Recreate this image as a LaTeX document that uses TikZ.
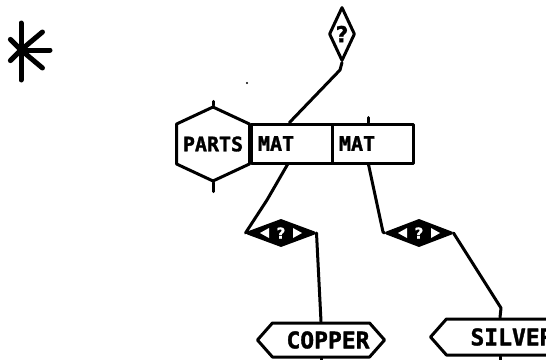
\documentclass[tikz,border=0pt]{standalone}
\usepackage{fontspec}
\newfontfamily\plotter{DejaVu Sans Mono}[BoldFeatures={FakeBold=1.5}]
\newfontfamily\glyphs{DejaVu Sans}[BoldFeatures={FakeBold=1}]
\usetikzlibrary{shapes.geometric,shapes.symbols}
\begin{document}
\begin{tikzpicture}[x=1pt,y=-1pt,line join=round,line cap=round,line width=3pt,
	word/.style={font=\plotter\bfseries\fontsize{#1}{#1}\selectfont},
	hexa/.style={draw,shape=signal,signal pointer angle=#1,inner sep=0pt,fill=white},
	matbox/.style={draw,rectangle,minimum height=39pt,text width=67pt,inner xsep=7pt,inner ysep=0pt,align=left,word=20},
	link/.style={shape=diamond,aspect=2.6,fill=black,draw,inner sep=0pt,minimum width=68pt,minimum height=26pt,text=white,font=\glyphs\bfseries\fontsize{15}{15}\selectfont}]
	\useasboundingbox (0,0) rectangle (546,359);
	% asterisk
	\draw[line width=5pt] (21,23) -- (21,80);
	\foreach \a/\r in {-40/28,0/29,40/28,-135/15,135/15}
		\draw[line width=5pt] (21,50) -- ++(\a:\r);
	\fill (247,83) circle (1.2);
	
	\node[shape=diamond,aspect=0.5,draw,fill=white,inner sep=0pt,minimum width=26pt,minimum height=54pt,font=\glyphs\bfseries\fontsize{22}{22}\selectfont] (ask) at (342,34) {?};
	\node[matbox] (mat1) at (291.5,143.5) {MAT};
	\node[matbox] (mat2) at (372.5,143.5) {MAT};
	\node[hexa=130,signal to=north and south,minimum width=73pt,minimum height=68pt,word=20] (parts) at (213,144) {PARTS};
	\node[link,minimum width=68pt] (cu) at (281,233) {?};
	\node[link,minimum width=66pt] (ag) at (419,233) {?};
	\foreach \d in {cu,ag}{
		\fill[white] ([xshift=-21pt]\d.center) -- ++(9,-5) -- ++(0,10) -- cycle;
		\fill[white] ([xshift=21pt]\d.center) -- ++(-9,-5) -- ++(0,10) -- cycle;
	}
	\node[hexa=97,signal to=west and east,minimum width=107pt,minimum height=34pt,word=23] (copper) at (321,340) {\hspace*{14pt}COPPER};
	\node[hexa=97,signal to=west and east,minimum width=100pt,minimum height=36pt,word=23] (silver) at (500,337) {\hspace*{24pt}SILVER};
	
	\coordinate (k1) at (340,70);
	\coordinate (k2) at (267,200);
	\coordinate (k3) at (383,232);
	\coordinate (k4) at (501,308);
	\draw (ask.south) -- (k1) -- ([xshift=-2pt]mat1.north);
	\draw ([xshift=-4pt]mat1.south) -- (k2) -- (cu.west);
	\draw (cu.east) -- (copper.north);
	\draw ([xshift=-4pt]mat2.south) -- (k3) -- (ag.west);
	\draw (ag.east) -- (k4) -- (silver.north);
	\draw (parts.north) -- ++(0,-4);
	\draw (parts.south) -- ++(0,9);
	\draw ([xshift=-4pt]mat2.north) -- ++(0,-5);
	\draw (copper.south) -- ++(0,6);
	\draw (silver.south) -- ++(0,6);
\end{tikzpicture}
\end{document}
